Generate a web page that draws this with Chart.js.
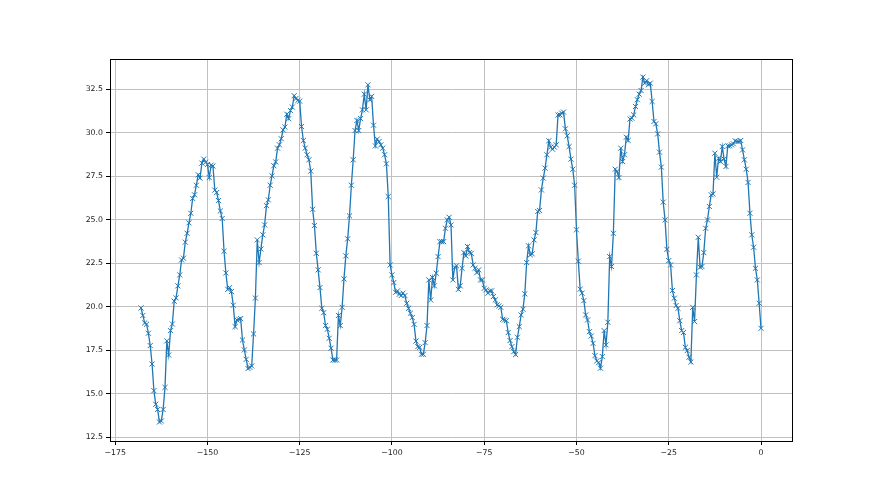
<!DOCTYPE html>
<html>
<head>
<meta charset="utf-8">
<script src="https://cdn.jsdelivr.net/npm/chart.js@4/dist/chart.umd.min.js"></script>
<style>
  html, body { margin: 0; padding: 0; background: #fff; }
  canvas { display: block; }
</style>
</head>
<body>
<canvas id="chart" width="880" height="495"></canvas>
<script>
// x axis: hours before now, one reading every half hour from -168 to 0
const xStart = -168;
const xStep = 0.5;

// readings, split in six runs
const run1 = [19.93, 19.5, 19.07, 19.0, 18.48, 17.77, 16.71, 15.18, 14.4, 14.1,
  13.38, 13.44, 14.1, 15.37, 18.04, 17.23, 18.63, 19.01, 20.32, 20.51,
  21.2, 21.83, 22.69, 22.79, 23.71, 24.22, 24.82, 25.37, 26.22, 26.43,
  26.98, 27.58, 27.39, 28.25, 28.48, 28.3, 28.17, 27.42, 28.13, 28.08,
  26.7, 26.56, 26.1, 25.5, 25.07, 23.19, 21.94, 21.0, 21.1, 20.87,
  20.09, 18.86, 19.24, 19.28];
const run2 = [19.32, 18.09, 17.52, 16.98, 16.45, 16.52, 16.6, 18.44, 20.5, 23.84,
  22.54, 23.32, 24.13, 24.7, 25.81, 26.14, 26.98, 27.52, 28.1, 28.32,
  29.11, 29.3, 29.65, 30.16, 30.32, 31.06, 30.8, 31.27, 31.47, 32.12,
  31.96, 31.85, 31.81, 30.35, 29.55, 29.11, 28.73, 28.44, 27.79, 25.6,
  24.66, 23.07, 22.12, 21.1, 19.91, 19.66, 18.92, 18.71, 18.19, 17.62,
  16.94, 16.94, 16.94, 19.5, 18.92, 19.97, 21.6];
const run3 = [22.92, 23.9, 25.22, 26.98, 28.44, 30.12, 30.7, 30.12, 30.81, 31.31,
  32.21, 31.31, 32.75, 31.89, 32.08, 30.43, 29.24, 29.63, 29.49, 29.3,
  29.11, 28.73, 28.21, 26.33, 22.4, 21.83, 21.39, 20.83, 20.91, 20.72,
  20.64, 20.78, 20.64, 20.2, 19.91, 19.63, 19.38, 18.99, 18.03, 17.71,
  17.67, 17.27, 17.27, 17.94, 18.92, 21.54, 20.39, 21.68, 21.2, 21.93,
  22.88, 23.74, 23.74, 23.74, 24.51, 24.99];
const run4 = [25.14, 24.7, 21.54, 22.27, 22.35, 21.0, 21.2, 22.21, 23.11, 22.92,
  23.46, 23.11, 23.07, 22.4, 22.21, 21.96, 22.12, 21.54, 21.54, 21.06,
  20.97, 20.78, 20.91, 20.91, 20.59, 20.39, 20.11, 20.05, 19.97, 19.28,
  19.24, 19.2, 18.52, 18.06, 17.71, 17.42, 17.25, 18.25, 18.86, 19.53,
  19.86, 20.74, 22.54, 23.5, 22.98, 23.04, 23.84, 24.26, 25.47, 25.53,
  26.71, 27.39, 27.96, 28.73, 29.53, 29.17, 29.05];
const run5 = [29.17, 29.3, 31.02, 31.02, 31.12, 31.18, 30.22, 29.82, 29.2, 28.48,
  27.9, 26.98, 24.42, 22.62, 21.01, 20.78, 20.35, 19.53, 19.24, 18.57,
  18.32, 17.9, 17.19, 16.89, 16.79, 16.47, 17.14, 18.63, 17.81, 19.11,
  22.88, 22.31, 24.22, 27.9, 27.77, 27.42, 29.11, 28.34, 28.73, 29.74,
  29.55, 30.78, 30.83, 31.02, 31.5, 31.89, 32.21, 32.42, 33.19, 32.84,
  32.98, 32.75, 32.84, 31.79, 30.64, 30.51, 29.93];
const run6 = [28.88, 28.02, 26.01, 24.99, 23.3, 22.65, 22.4, 20.93, 20.49, 20.07,
  19.91, 19.2, 18.63, 18.52, 17.67, 17.48, 17.1, 16.83, 19.97, 19.15,
  21.83, 23.99, 22.27, 22.31, 23.11, 24.51, 24.99, 25.76, 26.43, 26.48,
  28.82, 27.44, 28.53, 28.34, 29.2, 28.48, 28.06, 29.24, 29.24, 29.3,
  29.36, 29.53, 29.49, 29.49, 29.55, 29.01, 28.44, 27.9, 27.14, 25.37,
  24.13, 23.42, 22.21, 21.54, 20.2, 18.76];

const xTicks = [-175, -150, -125, -100, -75, -50, -25, 0];
const yTicks = [12.5, 15, 17.5, 20, 22.5, 25, 27.5, 30, 32.5];

const values = [...run1, ...run2, ...run3, ...run4, ...run5, ...run6];
const points = values.map((v, i) => ({ x: xStart + i * xStep, y: v }));

// draws the top and right spines like matplotlib
const frame = {
  id: 'frame',
  afterDraw(chart) {
    const { ctx, chartArea: a } = chart;
    ctx.save();
    ctx.strokeStyle = '#000';
    ctx.lineWidth = 1;
    ctx.strokeRect(a.left + 0.5, a.top + 0.5, a.right - a.left, a.bottom - a.top);
    ctx.restore();
  }
};

const minus = v => String(v).replace('-', '\u2212');
const tickFont = { family: 'DejaVu Sans', size: 7.8 };

new Chart(document.getElementById('chart').getContext('2d'), {
  type: 'line',
  data: {
    datasets: [{
      data: points,
      borderColor: '#1f77b4',
      backgroundColor: '#1f77b4',
      borderWidth: 1.3,
      pointStyle: 'crossRot',
      pointRadius: 3.6,
      pointBorderWidth: 1,
      pointBorderColor: '#1f77b4',
      tension: 0,
      fill: false
    }]
  },
  options: {
    responsive: false,
    animation: false,
    layout: { padding: { left: 0, right: 88, top: 59, bottom: 0 } },
    plugins: {
      legend: { display: false },
      tooltip: { enabled: false }
    },
    scales: {
      x: {
        type: 'linear',
        min: -176.4,
        max: 8.4,
        afterBuildTicks: s => { s.ticks = xTicks.map(v => ({ value: v })); },
        afterFit: s => { s.height = 54; },
        grid: { color: '#c0c0c0', lineWidth: 1, tickColor: '#000', tickLength: 4 },
        border: { color: '#000', width: 1 },
        ticks: {
          autoSkip: false,
          maxRotation: 0,
          padding: 3,
          color: '#222',
          font: tickFont,
          callback: v => minus(v)
        }
      },
      y: {
        min: 12.29,
        max: 34.23,
        afterBuildTicks: s => { s.ticks = yTicks.map(v => ({ value: v })); },
        afterFit: s => { s.width = 110; },
        grid: { color: '#c0c0c0', lineWidth: 1, tickColor: '#000', tickLength: 4 },
        border: { color: '#000', width: 1 },
        ticks: {
          autoSkip: false,
          padding: 3,
          color: '#222',
          font: tickFont,
          callback: v => v.toFixed(1)
        }
      }
    }
  },
  plugins: [frame]
});
</script>
</body>
</html>
